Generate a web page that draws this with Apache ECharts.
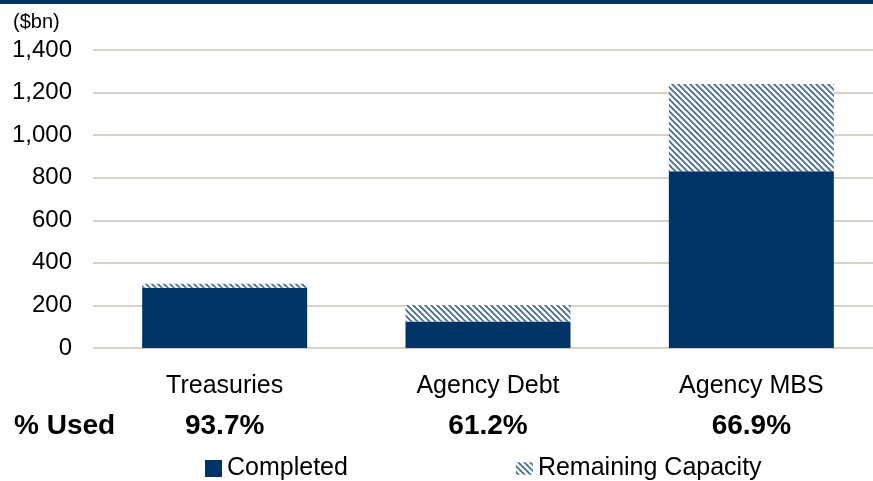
<!DOCTYPE html>
<html><head><meta charset="utf-8">
<script src="https://cdn.jsdelivr.net/npm/echarts@6/dist/echarts.min.js"></script>
<style>html,body{margin:0;padding:0;background:#fff;overflow:hidden}#c{width:883px;height:481px}</style>
</head><body><div id="c"></div>
<script>
const categories = ['Treasuries', 'Agency Debt', 'Agency MBS'];
const completed = [283, 124, 830];
const remaining = [19, 78, 410];
const pctUsed = ['93.7%', '61.2%', '66.9%'];
const yTicks = { min: 0, max: 1400, interval: 200 };

const navy = '#003466';
function hatch() {
  const s = 6, c = document.createElement('canvas');
  c.width = s; c.height = s;
  const ctx = c.getContext('2d');
  ctx.fillStyle = '#fff'; ctx.fillRect(0, 0, s, s);
  ctx.strokeStyle = '#3d6590'; ctx.lineWidth = 1.6;
  ctx.beginPath();
  ctx.moveTo(-1, -1); ctx.lineTo(s + 1, s + 1);
  ctx.moveTo(-1, s - 1); ctx.lineTo(1, s + 1);
  ctx.moveTo(s - 1, -1); ctx.lineTo(s + 1, 1);
  ctx.stroke();
  return c;
}
const font = 'Liberation Sans, Arial, sans-serif';
const chart = echarts.init(document.getElementById('c'), null, { renderer: 'canvas' });
chart.setOption({
  animation: false,
  textStyle: { fontFamily: font },
  grid: { left: 93, right: 0, top: 50, bottom: 133 },
  xAxis: [{
    type: 'category', data: categories,
    axisLine: { show: false }, axisTick: { show: false },
    axisLabel: { color: '#000', fontSize: 25, margin: 26, fontFamily: font }
  }, {
    type: 'category', data: pctUsed, position: 'bottom', offset: 38,
    axisLine: { show: false }, axisTick: { show: false },
    axisLabel: { color: '#000', fontSize: 28, fontWeight: 'bold', margin: 26, fontFamily: font }
  }],
  yAxis: {
    type: 'value', min: yTicks.min, max: yTicks.max, interval: yTicks.interval,
    axisLine: { show: false }, axisTick: { show: false },
    splitLine: { lineStyle: { color: '#d6d2c9', width: 2 } },
    axisLabel: { color: '#000', fontSize: 24, margin: 21, fontFamily: font,
      formatter: v => v.toLocaleString('en-US') }
  },
  legend: {
    left: 200, top: 451, itemWidth: 17, itemHeight: 17, itemGap: 168,
    textStyle: { fontSize: 25, color: '#000', fontFamily: font },
    data: [{ name: 'Completed', icon: 'rect' },
           { name: 'Remaining Capacity', icon: 'path://M0,0 L15,0 L15,11 L0,11 Z' }]
  },
  graphic: [
    { type: 'rect', left: 0, top: 0, shape: { width: 883, height: 4 }, style: { fill: navy } },
    { type: 'text', left: 13, top: 12, style: { text: '($bn)', font: '20px ' + font, fill: '#000' } },
    { type: 'text', left: 14, top: 412, style: { text: '% Used', font: 'bold 28px ' + font, fill: '#000' } }
  ],
  series: [
    { name: 'Completed', type: 'bar', stack: 's', data: completed, barWidth: 165,
      itemStyle: { color: navy } },
    { name: 'Remaining Capacity', type: 'bar', stack: 's', data: remaining, barWidth: 165,
      itemStyle: { color: { image: hatch(), repeat: 'repeat' } } }
  ]
});
</script></body></html>
